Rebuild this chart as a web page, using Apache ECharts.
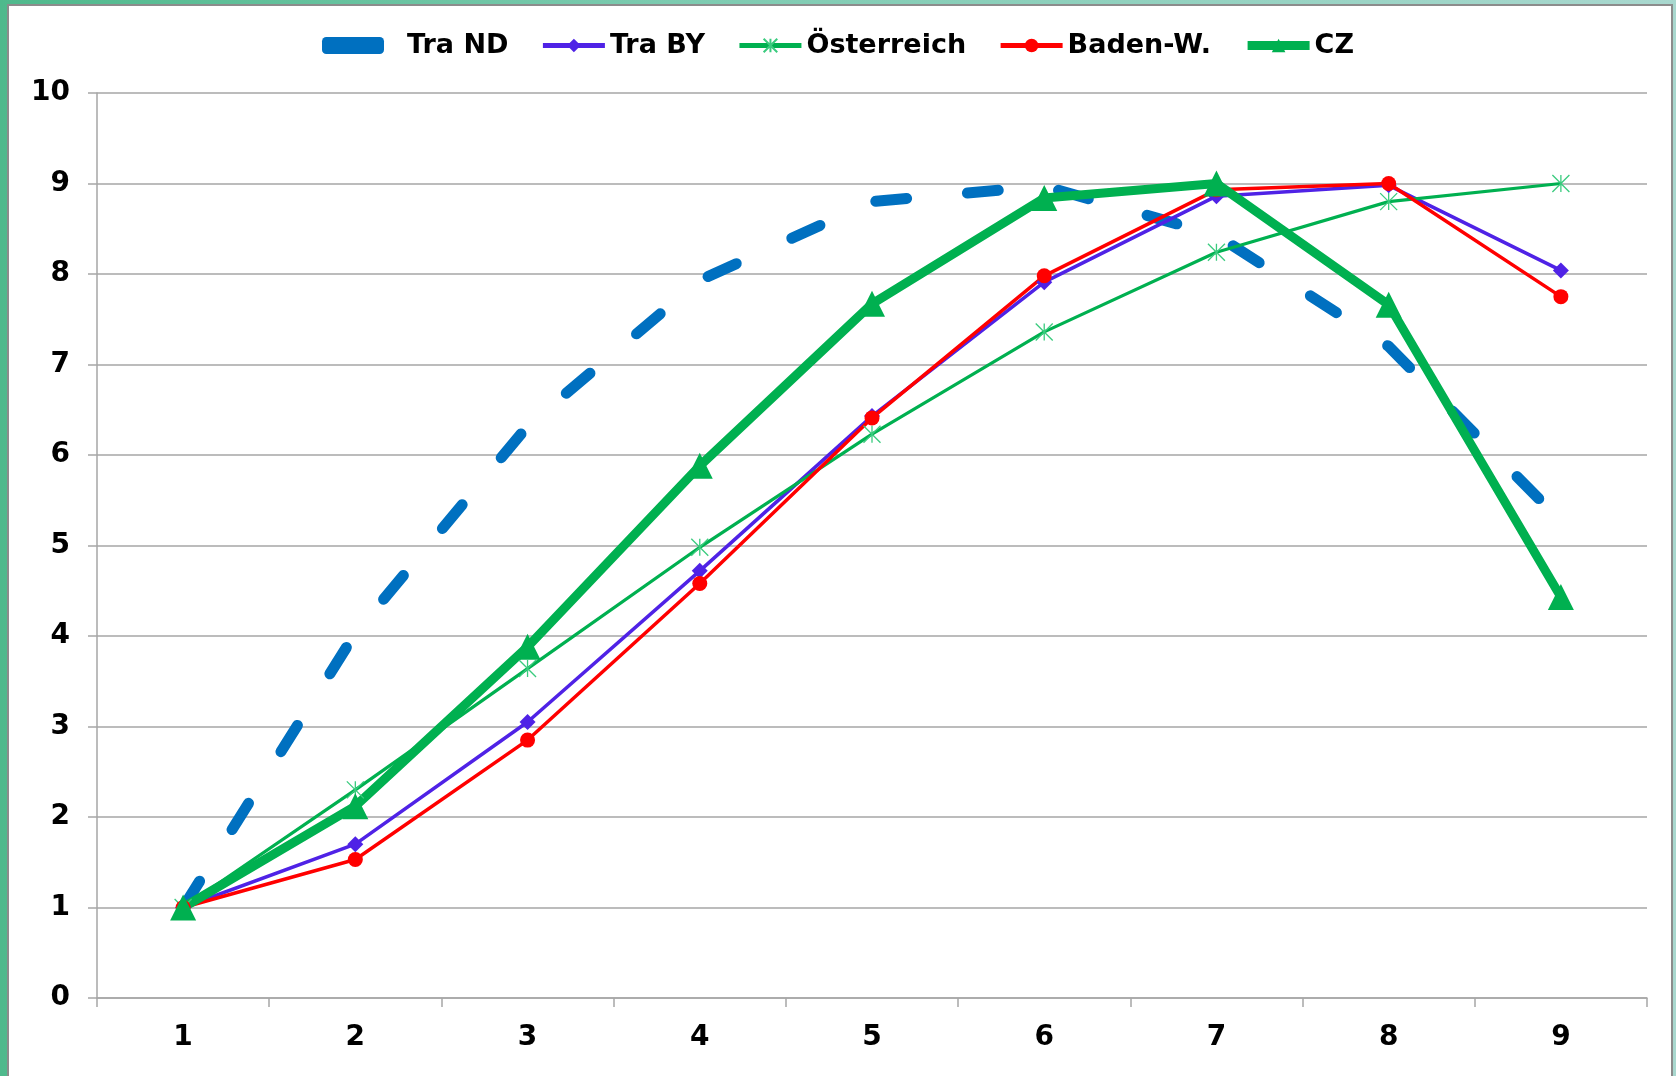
<!DOCTYPE html>
<html>
<head>
<meta charset="utf-8">
<title>Chart</title>
<script src="https://cdn.jsdelivr.net/npm/echarts@6/dist/echarts.min.js"></script>
<style>
	html, body {
		margin: 0;
		padding: 0;
		width: 1676px;
		height: 1076px;
		overflow: hidden;
		background: linear-gradient(90deg, #4fb98c 0%, #7ccbb0 40%, #a9d8cf 100%);
	}
	#frame {
		position: absolute;
		left: 7px;
		top: 4px;
		width: 1662px;
		height: 1100px;
		background: #fff;
		border: 2px solid #8c8c8c;
	}
	#myEcharts {
		position: absolute;
		left: 0;
		top: 0;
		width: 1676px;
		height: 1076px;
	}
</style>
</head>
<body>
<div id="frame"></div>
<div id="myEcharts"></div>
<script>
	var categories = ['1', '2', '3', '4', '5', '6', '7', '8', '9'];
	var traND = [1.0, 4.03, 6.32, 7.93, 8.8, 8.97, 8.43, 7.2, 5.27];
	var traBY = [1.0, 1.7, 3.05, 4.72, 6.43, 7.91, 8.86, 8.98, 8.04];
	var oesterreich = [1.0, 2.3, 3.64, 4.98, 6.23, 7.36, 8.24, 8.8, 9.0];
	var badenW = [1.0, 1.53, 2.85, 4.58, 6.41, 7.98, 8.93, 9.0, 7.75];
	var cz = [1.0, 2.12, 3.88, 5.88, 7.67, 8.84, 9.0, 7.66, 4.43];

	var fontName = 'DejaVu Sans';
	var gridColor = '#a6a6a6';
	// Sternchen-Marker wie in Excel
	var starSymbol = 'path://M0,0L10,10M10,0L0,10M5,0L5,10';

	var myChart = echarts.init(document.getElementById('myEcharts'));

	var option = {
		animation: false,
		backgroundColor: 'transparent',
		legend: {
			left: 'center',
			top: 27,
			itemWidth: 62,
			itemHeight: 17,
			itemGap: 32,
			textStyle: {
				fontFamily: fontName,
				fontWeight: 'bold',
				fontSize: 27,
				color: '#000'
			},
			data: [{
				name: 'Tra ND',
				icon: 'roundRect',
				itemStyle: { color: '#0070c0' },
				textStyle: { padding: [0, 0, 0, 18] }
			}, {
				name: 'Tra BY',
				lineStyle: { width: 5 }
			}, {
				name: 'Österreich',
				lineStyle: { width: 5 }
			}, {
				name: 'Baden-W.',
				lineStyle: { width: 5 }
			}, {
				name: 'CZ',
				lineStyle: { width: 9 }
			}]
		},
		grid: {
			left: 97,
			right: 29,
			top: 93,
			bottom: 78
		},
		xAxis: {
			type: 'category',
			data: categories,
			boundaryGap: true,
			axisLine: { lineStyle: { color: gridColor, width: 1.5 } },
			axisTick: { show: true, length: 9, interval: 0, lineStyle: { color: gridColor, width: 1.5 } },
			axisLabel: {
				margin: 26,
				fontFamily: fontName,
				fontWeight: 'bold',
				fontSize: 28,
				color: '#000'
			}
		},
		yAxis: {
			type: 'value',
			min: 0,
			max: 10,
			interval: 1,
			axisLine: { show: true, lineStyle: { color: gridColor, width: 1.5 } },
			axisTick: { show: true, length: 9, lineStyle: { color: gridColor, width: 1.5 } },
			splitLine: { lineStyle: { color: gridColor, width: 1.5 } },
			axisLabel: {
				margin: 27,
				fontFamily: fontName,
				fontWeight: 'bold',
				fontSize: 28,
				color: '#000'
			}
		},
		series: [{
			name: 'Tra ND',
			type: 'line',
			data: traND,
			symbol: 'none',
			itemStyle: { color: '#0070c0' },
			lineStyle: { color: '#0070c0', width: 11, type: [31, 61], cap: 'round', join: 'round' }
		}, {
			name: 'Tra BY',
			type: 'line',
			data: traBY,
			symbol: 'diamond',
			symbolSize: 16,
			itemStyle: { color: '#4f22e6' },
			lineStyle: { color: '#4f22e6', width: 3.5 }
		}, {
			name: 'Österreich',
			type: 'line',
			data: oesterreich,
			symbol: starSymbol,
			symbolSize: 17,
			itemStyle: { color: '#00b050', borderColor: '#3acb7e', borderWidth: 1.3 },
			lineStyle: { color: '#00b050', width: 3.2 }
		}, {
			name: 'Baden-W.',
			type: 'line',
			data: badenW,
			symbol: 'circle',
			symbolSize: 15,
			itemStyle: { color: '#ff0000' },
			lineStyle: { color: '#ff0000', width: 3.5 }
		}, {
			name: 'CZ',
			type: 'line',
			data: cz,
			symbol: 'triangle',
			symbolSize: 26,
			itemStyle: { color: '#00b050' },
			lineStyle: { color: '#00b050', width: 9 }
		}]
	};

	myChart.setOption(option, true);
</script>
</body>
</html>
